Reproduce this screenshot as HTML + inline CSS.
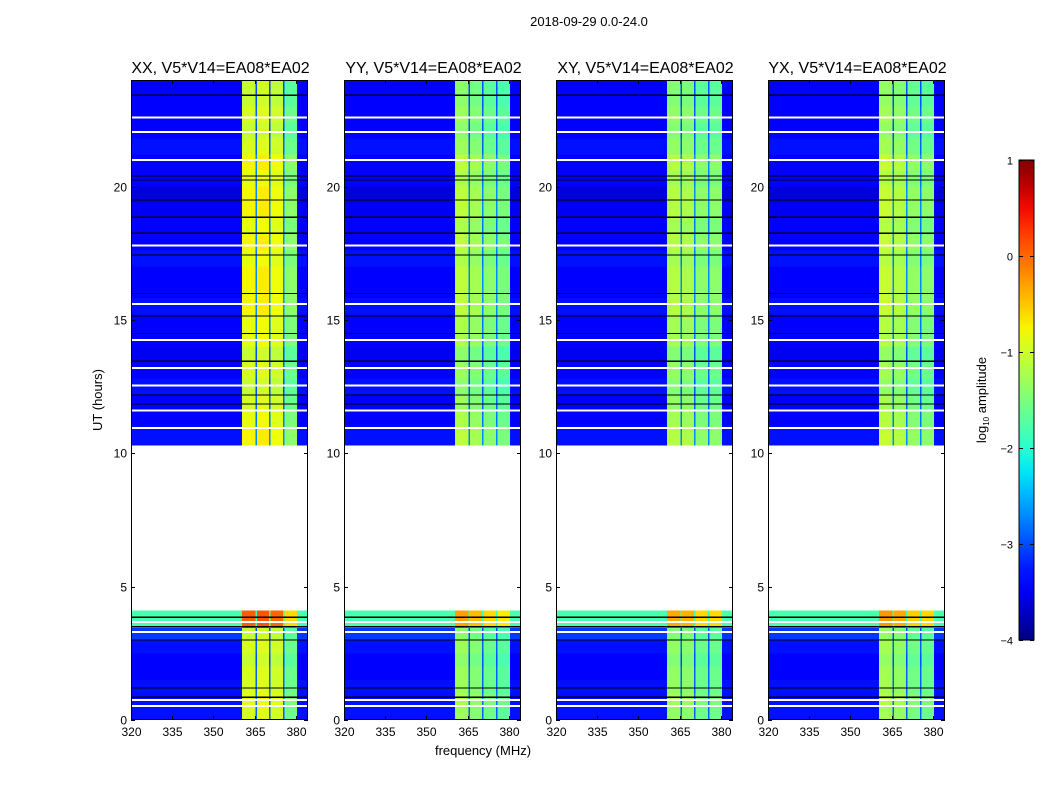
<!DOCTYPE html>
<html><head><meta charset="utf-8">
<style>
html,body{margin:0;padding:0;background:#fff;}
svg{display:block;font-family:"Liberation Sans","DejaVu Sans",sans-serif;}
</style></head>
<body>
<svg id="fig" width="1050" height="800" viewBox="0 0 1050 800">
<text x="589" y="26" font-size="13" text-anchor="middle">2018-09-29 0.0-24.0</text>
<text x="102" y="400" font-size="13" text-anchor="middle" transform="rotate(-90 102 400)">UT (hours)</text>
<text x="483" y="755" font-size="13" text-anchor="middle">frequency (MHz)</text>
<g id="panels"></g>
<g id="cbar"></g>
</svg>
<script>
// ---- data ----
const panelTitles = ["XX, V5*V14=EA08*EA02","YY, V5*V14=EA08*EA02","XY, V5*V14=EA08*EA02","YX, V5*V14=EA08*EA02"];
const freqEdges = [320, 360.4, 365.3, 365.9, 370.2, 370.8, 375.3, 375.9, 380.4, 384.4];
const colLevelXX = [-3.4, -0.95, -2.9, -0.9, -2.9, -1.0, -2.9, -1.6, -3.4];
const colLevelYY = [-3.4, -1.3, -2.9, -1.45, -2.9, -1.6, -2.9, -1.7, -3.4];
const colLevelXY = [-3.4, -1.35, -2.9, -1.4, -2.9, -1.6, -2.9, -1.6, -3.4];
const colLevelYX = [-3.4, -1.25, -2.9, -1.35, -2.9, -1.55, -2.9, -1.6, -3.4];
const rowEdges = [0,0.5,1,1.5,2,2.5,3,3.45,4.1,10.3,11,11.6,12.2,12.8,13.4,14,14.6,15.2,15.8,16.4,17,17.6,18.2,18.8,19.4,20,20.6,21.2,21.8,22.4,23,23.5,24];
const rowBg = [-3.3,-3.3,-3.3,-3.4,-3.4,-3.3,-3.1,-1.8,null,-3.3,-3.4,-3.4,-3.3,-3.4,-3.5,-3.4,-3.4,-3.3,-3.4,-3.4,-3.3,-3.4,-3.4,-3.5,-3.6,-3.4,-3.4,-3.3,-3.4,-3.4,-3.4,-3.4];
const rowBoost = [0,0.1,0,0,-0.1,0,-0.1,1.0,null,0.2,0.1,0,-0.1,0,-0.1,0.1,0.1,0.2,0.2,0.2,0.1,0.2,0.1,0.2,0.2,0.1,0.2,0,-0.1,0,-0.1,-0.1];
const whiteLines = [22.6,22.05,21.0,17.8,15.6,14.25,13.2,12.55,11.6,10.95,0.75,0.52,3.3,3.67];
const blackLines = [23.43,20.4,20.25,19.5,18.86,18.26,17.44,16.0,15.15,14.5,13.46,12.19,11.85,0.86,1.2,3.86,3.5,3.0];
const xTicks = [320,335,350,365,380];
const yTicks = [0,5,10,15,20];
const cbTicks = [1,0,-1,-2,-3,-4];
const cbTickLabels = ["1","0","\u22121","\u22122","\u22123","\u22124"];

const colLevels = [colLevelXX, colLevelYY, colLevelXY, colLevelYX];
const panelLeft = [131, 344, 556, 768];
const PW = 177, PT = 80, PB = 720;
const NS = "http://www.w3.org/2000/svg";

function jet(t){
  t = Math.max(0, Math.min(1, t));
  function interp(pts){
    for (let i=1;i<pts.length;i++){
      if (t<=pts[i][0]){ const a=pts[i-1], b=pts[i]; return a[1]+(b[1]-a[1])*(t-a[0])/(b[0]-a[0]); }
    }
    return pts[pts.length-1][1];
  }
  const r = interp([[0,0],[0.35,0],[0.66,1],[0.89,1],[1,0.5]]);
  const g = interp([[0,0],[0.125,0],[0.375,1],[0.64,1],[0.91,0],[1,0]]);
  const b = interp([[0,0.5],[0.11,1],[0.34,1],[0.65,0],[1,0]]);
  return `rgb(${Math.round(r*255)},${Math.round(g*255)},${Math.round(b*255)})`;
}
function colorOf(v){ return jet((v+4)/5); }
function mk(tag, attrs, parent){
  const e = document.createElementNS(NS, tag);
  for (const k in attrs) e.setAttribute(k, attrs[k]);
  parent.appendChild(e); return e;
}
const yScale = t => PB - (t/24)*(PB-PT);

const panels = document.getElementById('panels');
for (let p=0;p<4;p++){
  const L = panelLeft[p];
  const xScale = f => L + (f-320)/(384.4-320)*PW;
  const g = mk('g', {}, panels);
  
  
  const cells = mk('g', {'shape-rendering':'crispEdges'}, g);
  
  
  for (let r=0;r<rowBg.length;r++){
    if (rowBg[r]===null) continue;
    const y0 = yScale(rowEdges[r+1]), y1 = yScale(rowEdges[r]);
    for (let c=0;c<freqEdges.length-1;c++){
      const isBg = (c===0 || c===freqEdges.length-2);
      const v = isBg ? rowBg[r] : colLevels[p][c] + rowBoost[r];
      const x0 = xScale(freqEdges[c]), x1 = xScale(freqEdges[c+1]);
      const rc = mk('rect', {x:x0, y:y0, width:x1-x0, height:y1-y0, fill:colorOf(Math.min(1,Math.max(-4,v)))}, cells);
      
      
    }
  }
  for (const t of whiteLines){
    const ln = mk('rect', {x:L, y:yScale(t)-1, width:PW, height:2, fill:'#fff'}, cells);
    
    
  }
  for (const t of blackLines){
    const ln = mk('rect', {x:L, y:yScale(t)-0.5, width:PW, height:1.2, fill:'#000'}, cells);
    
    
  }
  const fr = mk('rect', {x:L+0.5, y:PT+0.5, width:PW-1, height:PB-PT-1, fill:'none', stroke:'#000', 'stroke-width':1}, g);
  
  
  const tt = mk('text', {x:L+PW/2+1, y:PT-7, 'font-size':16, 'text-anchor':'middle'}, g);
  tt.textContent = panelTitles[p];
  
  
  for (const f of xTicks){
    const x = Math.round(xScale(f))+0.5;
    mk('line', {x1:x, x2:x, y1:PB, y2:PB-4, stroke:'#000'}, g);
    mk('line', {x1:x, x2:x, y1:PT, y2:PT+4, stroke:'#000'}, g);
    const lb = mk('text', {x:x, y:PB+16, 'font-size':12, 'text-anchor':'middle'}, g);
    lb.textContent = f;
    
    
  }
  for (const t of yTicks){
    const y = Math.round(yScale(t))+0.5;
    mk('line', {x1:L, x2:L+4, y1:y, y2:y, stroke:'#000'}, g);
    mk('line', {x1:L+PW, x2:L+PW-4, y1:y, y2:y, stroke:'#000'}, g);
    const lb = mk('text', {x:L-4, y:y+4, 'font-size':12, 'text-anchor':'end'}, g);
    lb.textContent = t;
    
    
  }
}

// colorbar
const cb = document.getElementById('cbar');
const CBX = 1019, CBW = 15, CBT = 160, CBB = 640;
const defs = mk('defs', {}, cb);
const grad = mk('linearGradient', {id:'jetg', x1:0, y1:1, x2:0, y2:0}, defs);
for (let i=0;i<=20;i++){
  mk('stop', {offset:(i/20), 'stop-color':jet(i/20)}, grad);
}
const bar = mk('rect', {x:CBX, y:CBT, width:CBW, height:CBB-CBT, fill:'url(#jetg)', stroke:'#000', 'stroke-width':1}, cb);


const cbScale = v => CBB - (v+4)/5*(CBB-CBT);
for (let i=0;i<cbTicks.length;i++){
  const y = Math.round(cbScale(cbTicks[i]))+0.5;
  mk('line', {x1:CBX, x2:CBX+4, y1:y, y2:y, stroke:'#000'}, cb);
  mk('line', {x1:CBX+CBW, x2:CBX+CBW-4, y1:y, y2:y, stroke:'#000'}, cb);
  const lb = mk('text', {x:CBX-6, y:y+4, 'font-size':11, 'text-anchor':'end'}, cb);
  lb.textContent = cbTickLabels[i];
  
  
}
const cl = mk('text', {x:986, y:400, 'font-size':13, 'text-anchor':'middle', transform:'rotate(-90 986 400)'}, cb);
cl.innerHTML = 'log<tspan font-size="8" dy="3">10</tspan><tspan dy="-3"> amplitude</tspan>';


</script>
</body></html>
